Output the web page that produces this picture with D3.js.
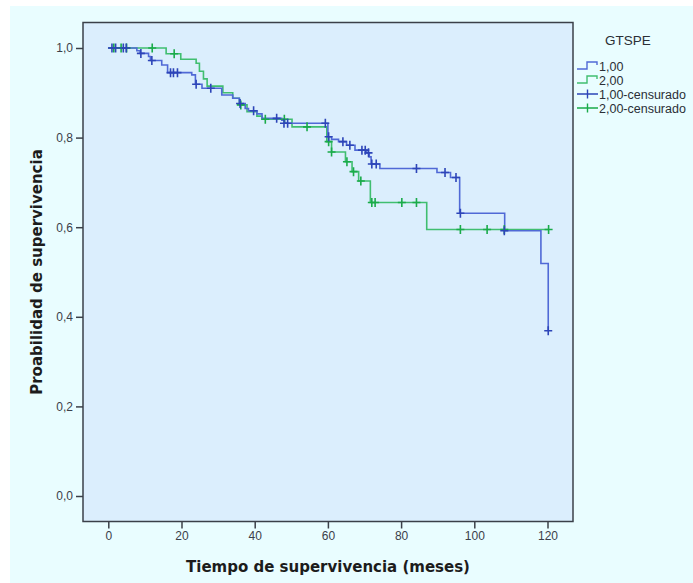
<!DOCTYPE html>
<html>
<head>
<meta charset="utf-8">
<script src="https://cdn.jsdelivr.net/npm/d3@7"></script>
<style>
  body { margin: 0; background: #ffffff; }
  svg { display: block; }
</style>
</head>
<body>
<div id="chart"></div>
<script>
var width = 693, height = 583;

// Kaplan-Meier steps: [meses, probabilidad tras el evento]
var steps1 = [[0,1.0],[7.8,0.994],[8.7,0.988],[11,0.981],[11.5,0.972],[14.6,0.962],[16.2,0.945],
  [22.8,0.94],[23.8,0.919],[25.6,0.91],[31,0.895],[34,0.888],[35.8,0.876],[37.4,0.865],[38.3,0.86],
  [40.6,0.853],[42,0.843],[47.4,0.839],[48.2,0.832],[60,0.802],[61,0.796],[62.9,0.791],[65.1,0.783],
  [67.4,0.772],[70.6,0.766],[71.3,0.757],[71.8,0.741],[74.2,0.731],[89.8,0.722],[93.5,0.711],
  [96,0.631],[108.3,0.592],[118.2,0.519],[120.2,0.369]];
var steps2 = [[0,1.0],[15.8,0.987],[19.8,0.975],[24,0.966],[24.9,0.948],[26,0.931],[27,0.915],
  [31.3,0.9],[34,0.888],[35.8,0.873],[37.9,0.858],[40.6,0.848],[42,0.841],[50.2,0.824],
  [59.7,0.791],[61,0.768],[64.8,0.746],[66.6,0.724],[68.4,0.703],[71.6,0.655],[87,0.595]];
var end1 = 120.2, end2 = 120.3;

// censurados: [meses, probabilidad]
var cens1 = [[1,1],[2,1],[4.1,1],[4.9,1],[8.9,0.988],[11.9,0.972],[17,0.945],[17.8,0.945],[18.9,0.945],
  [24,0.919],[28,0.91],[36,0.876],[39.7,0.86],[46,0.843],[48,0.832],[49,0.832],[59.3,0.832],
  [60.2,0.802],[64.1,0.791],[66,0.783],[69.3,0.772],[70.2,0.772],[71.1,0.766],[72,0.741],[73.2,0.741],
  [84.2,0.731],[92,0.722],[95,0.711],[96.2,0.631],[108.2,0.592],[120.2,0.369]];
var cens2 = [[1.5,1],[3.5,1],[5,1],[12,1],[18,0.987],[36.2,0.873],[42.9,0.841],[48.1,0.841],
  [54.3,0.824],[60.2,0.791],[61,0.768],[65.2,0.746],[67,0.724],[69,0.703],[72,0.655],[72.9,0.655],
  [80.2,0.655],[84.2,0.655],[96.2,0.595],[103.5,0.595],[108.2,0.595],[120.3,0.595]];

var xTicks = [0, 20, 40, 60, 80, 100, 120];
var yTicks = [0, 0.2, 0.4, 0.6, 0.8, 1.0];
var legendLabels = ["1,00", "2,00", "1,00-censurado", "2,00-censurado"];

var col1 = "#5069d6", col2 = "#40be70", mark1 = "#2d45b8", mark2 = "#1aab4a";

var es = d3.formatLocale({decimal: ",", thousands: ".", grouping: [3], currency: ["", "€"]});

var svg = d3.select("#chart").append("svg")
  .attr("width", width)
  .attr("height", height);

svg.append("rect").attr("x", 10).attr("y", 6).attr("width", width - 10).attr("height", height - 6)
  .attr("fill", "#e9fdff");

var frame = {left: 83, top: 22.5, right: 573, bottom: 521.5};
svg.append("rect")
  .attr("x", frame.left).attr("y", frame.top)
  .attr("width", frame.right - frame.left).attr("height", frame.bottom - frame.top)
  .attr("fill", "#dbeefd");

var x = d3.scaleLinear().domain([0, 120]).range([108.3, 547.5]);
var y = d3.scaleLinear().domain([0, 1]).range([496, 48]);

var xAxis = svg.append("g")
  .attr("transform", "translate(0," + frame.bottom + ")")
  .call(d3.axisBottom(x).tickValues(xTicks).tickSize(7).tickPadding(3).tickFormat(d3.format("d")));
var yAxis = svg.append("g")
  .attr("transform", "translate(" + frame.left + ",0)")
  .call(d3.axisLeft(y).tickValues(yTicks).tickSize(7).tickPadding(3).tickFormat(es.format(".1f")));
[xAxis, yAxis].forEach(function(a){
  a.select(".domain").remove();
  a.selectAll(".tick line").attr("stroke", "#3b4049").attr("stroke-width", 1.5);
  a.selectAll(".tick text").attr("fill", "#3b4049")
    .style("font-family", "'Liberation Sans', Arial, sans-serif").style("font-size", "12px");
});

svg.append("rect")
  .attr("x", frame.left).attr("y", frame.top)
  .attr("width", frame.right - frame.left).attr("height", frame.bottom - frame.top)
  .attr("fill", "none").attr("stroke", "#3b4049").attr("stroke-width", 1.5);

var line = d3.line()
  .x(function(d){ return x(d[0]); })
  .y(function(d){ return y(d[1]); })
  .curve(d3.curveStepAfter);

function curve(steps, end, color){
  var pts = steps.concat([[end, steps[steps.length - 1][1]]]);
  svg.append("path").datum(pts).attr("d", line)
    .attr("fill", "none").attr("stroke", color).attr("stroke-width", 1.6);
}
curve(steps2, end2, col2);
curve(steps1, end1, col1);

function marks(data, color){
  var g = svg.append("g").attr("stroke", color).attr("stroke-width", 1.6);
  g.selectAll("path").data(data).enter().append("path")
    .attr("d", function(d){
      var cx = x(d[0]), cy = y(d[1]);
      return "M" + (cx - 4) + "," + cy + "H" + (cx + 4) + "M" + cx + "," + (cy - 4.5) + "V" + (cy + 4.5);
    });
}
marks(cens2, mark2);
marks(cens1, mark1);

svg.append("text")
  .attr("x", 328).attr("y", 572)
  .attr("text-anchor", "middle")
  .style("font-family", "'DejaVu Sans', Verdana, sans-serif").style("font-weight", "bold").style("font-size", "15px")
  .attr("fill", "#1c1c1c")
  .text("Tiempo de supervivencia (meses)");

svg.append("text")
  .attr("transform", "translate(42,272) rotate(-90)")
  .attr("text-anchor", "middle")
  .style("font-family", "'DejaVu Sans', Verdana, sans-serif").style("font-weight", "bold").style("font-size", "15px")
  .attr("fill", "#1c1c1c")
  .text("Proabilidad de supervivencia");

// leyenda
var leg = svg.append("g").style("font-family", "'Liberation Sans', Arial, sans-serif");
leg.append("text").attr("x", 628).attr("y", 45).attr("text-anchor", "middle")
  .style("font-size", "13.5px").attr("fill", "#2b2f36").text("GTSPE");
var rows = leg.selectAll("g.row").data(legendLabels).enter().append("g")
  .attr("transform", function(d, i){ return "translate(0," + (66 + i * 14) + ")"; });
rows.append("path")
  .attr("d", function(d, i){
    if (i < 2) return "M577,3H587V-4H597V-1";
    return "M577,0H598M587.5,-4.5V4.5";
  })
  .attr("fill", "none")
  .attr("stroke", function(d, i){ return i % 2 ? (i < 2 ? col2 : mark2) : (i < 2 ? col1 : mark1); })
  .attr("stroke-width", 1.4);
rows.append("text").attr("x", 599).attr("y", 4.5)
  .style("font-size", "12.5px").attr("fill", "#2b2f36")
  .text(function(d){ return d; });
</script>
</body>
</html>
